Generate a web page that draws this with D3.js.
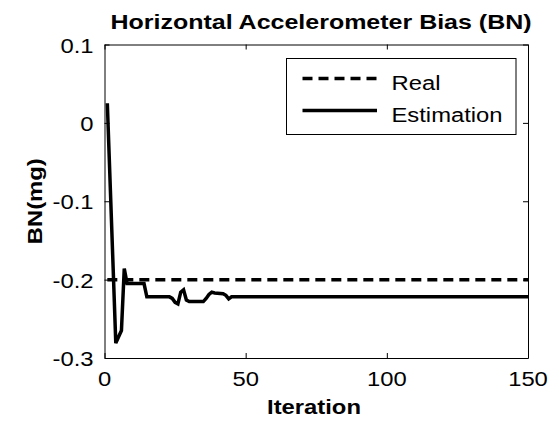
<!DOCTYPE html>
<html>
<head>
<meta charset="utf-8">
<script src="https://cdn.jsdelivr.net/npm/d3@7"></script>
<style>
  html, body { margin: 0; padding: 0; background: #fff; }
  svg { display: block; }
  text { font-family: "Liberation Sans", Arial, Helvetica, sans-serif; fill: #000; }
</style>
</head>
<body>
<script>
// ---- data ----
const titleText = "Horizontal Accelerometer Bias (BN)";
const xLabel = "Iteration";
const yLabel = "BN(mg)";
const xTicks = [0, 50, 100, 150];
const yTicks = [-0.3, -0.2, -0.1, 0, 0.1];
const yTickLabels = ["-0.3", "-0.2", "-0.1", "0", "0.1"];
const seriesNames = ["Real", "Estimation"];

const realIter = [1, 150];
const realValue = [-0.2, -0.2];

const estIter = [1, 4, 5, 6, 7, 8, 14, 15, 23, 24, 25, 26, 27, 28, 29, 30, 35, 36, 37, 38, 39, 42, 43, 44, 45, 150];
const estValue = [0.025, -0.281, -0.273, -0.265, -0.186, -0.205, -0.205, -0.222, -0.222, -0.224, -0.229, -0.231, -0.216, -0.213, -0.226, -0.228, -0.228, -0.224, -0.219, -0.216, -0.217, -0.218, -0.220, -0.2245, -0.222, -0.222];

// ---- layout ----
const W = 559, H = 425;
const M = { left: 104.5, right: 528, top: 44.5, bottom: 358 };
const SX = 1.19; // horizontal stretch of the glyphs in the reference

const svg = d3.select("body").append("svg").attr("width", W).attr("height", H);

const x = d3.scaleLinear().domain([0, 150]).range([M.left, M.right]);
const y = d3.scaleLinear().domain([-0.3, 0.1]).range([M.bottom, M.top]);

function label(g, tx, ty, txt, opts) {
  opts = opts || {};
  const t = g.append("text")
    .attr("transform", `translate(${tx},${ty}) ${opts.rotate ? "rotate(" + opts.rotate + ")" : ""} scale(${SX},1)`)
    .attr("text-anchor", opts.anchor || "middle")
    .style("font-size", (opts.size || 20) + "px")
    .style("font-weight", opts.bold ? "bold" : "normal")
    .text(txt);
  return t;
}

// lines
const real = realIter.map((d, i) => [d, realValue[i]]);
const est = estIter.map((d, i) => [d, estValue[i]]);
const line = d3.line().x(d => x(d[0])).y(d => y(d[1]));

svg.append("path").datum(real).attr("d", line)
  .attr("fill", "none").attr("stroke", "#000").attr("stroke-width", 3.5)
  .attr("stroke-dasharray", "10,6");
svg.append("path").datum(est).attr("d", line)
  .attr("fill", "none").attr("stroke", "#000").attr("stroke-width", 3.5)
  .attr("stroke-linejoin", "miter");

// axes (MATLAB box, ticks inside)
const tickLen = 5;
const axB = svg.append("g").attr("transform", `translate(0,${M.bottom})`)
  .call(d3.axisBottom(x).tickValues(xTicks).tickSizeInner(-tickLen).tickSizeOuter(0).tickFormat(""));
const axT = svg.append("g").attr("transform", `translate(0,${M.top})`)
  .call(d3.axisTop(x).tickValues(xTicks).tickSizeInner(-tickLen).tickSizeOuter(0).tickFormat(""));
const axL = svg.append("g").attr("transform", `translate(${M.left},0)`)
  .call(d3.axisLeft(y).tickValues(yTicks).tickSizeInner(-tickLen).tickSizeOuter(0).tickFormat(""));
const axR = svg.append("g").attr("transform", `translate(${M.right},0)`)
  .call(d3.axisRight(y).tickValues(yTicks).tickSizeInner(-tickLen).tickSizeOuter(0).tickFormat(""));
[axB, axT, axL, axR].forEach(a => {
  a.selectAll("path.domain").attr("stroke", "#000").attr("stroke-width", 1);
  a.selectAll(".tick line").attr("stroke", "#000").attr("stroke-width", 1);
});

// tick labels
xTicks.forEach(v => label(svg, x(v), M.bottom + 28, String(v)));
yTicks.forEach((v, i) => label(svg, 93.5, y(v) + 8, yTickLabels[i], { anchor: "end" }));

// titles
label(svg, 321, 28.5, titleText, { bold: true, size: 21 });
label(svg, 314, 414, xLabel, { bold: true });
label(svg, 41.5, (M.top + M.bottom) / 2, yLabel, { bold: true, rotate: -90 });

// legend
const lg = svg.append("g");
lg.append("rect").attr("x", 286.5).attr("y", 58.5).attr("width", 229.5).attr("height", 76)
  .attr("fill", "#fff").attr("stroke", "#000").attr("stroke-width", 1);
const legY = [78.5, 110.5];
seriesNames.forEach((n, i) => {
  lg.append("line").attr("x1", 302.5).attr("x2", 377).attr("y1", legY[i]).attr("y2", legY[i])
    .attr("stroke", "#000").attr("stroke-width", 3.5)
    .attr("stroke-dasharray", i === 0 ? "10,6" : null);
  label(lg, 391.5, legY[i] + 11, n, { anchor: "start" });
});
</script>
</body>
</html>
